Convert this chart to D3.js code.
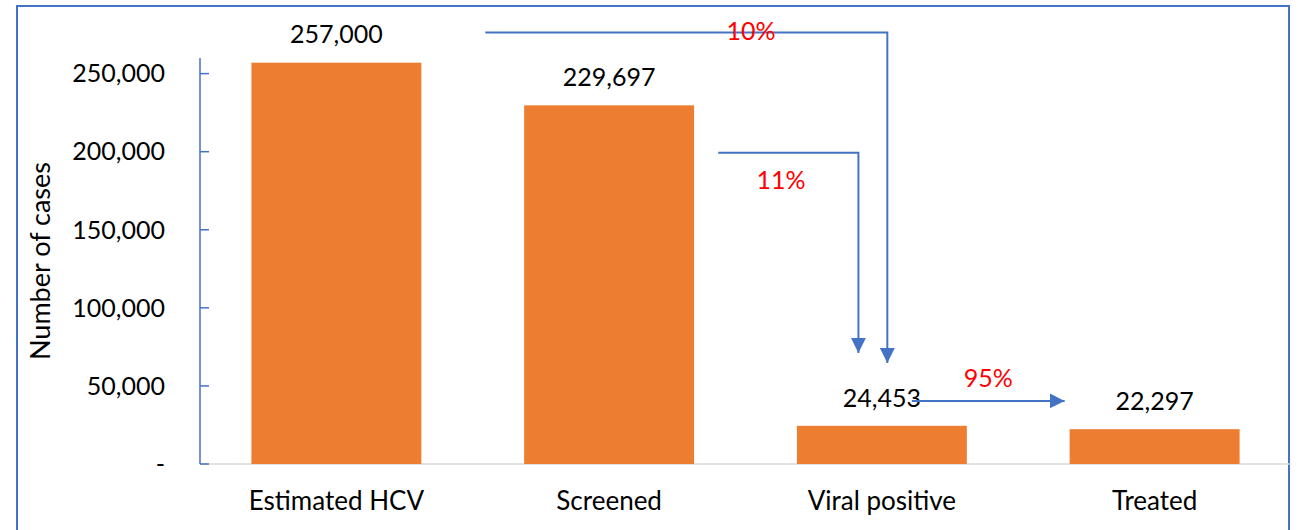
<!DOCTYPE html>
<html>
<head>
<meta charset="utf-8">
<script src="https://cdn.jsdelivr.net/npm/d3@7"></script>
<style>
  body { margin: 0; background: #fff; }
  text { font-family: Lato, "Open Sans", sans-serif; }
</style>
</head>
<body>
<div id="chart"></div>
<script>
// cascade of care
const categories = ["Estimated HCV", "Screened", "Viral positive", "Treated"]
const values = [257000, 229697, 24453, 22297]
const valueLabels = ["257,000", "229,697", "24,453", "22,297"]
const yTicks = [0, 50000, 100000, 150000, 200000, 250000]

// arrows: points as [category position, value]
const arrows = [
  [[0.546, 276300], [2.02, 276300], [2.02, 64700]],
  [[1.40, 199400], [1.914, 199400], [1.914, 71150]],
  [[2.11, 40400], [2.67, 40400]]
]
const pctLabels = ["10%", "11%", "95%"]
const pctPos = [[1.52, 277000], [1.63, 181400], [2.39, 55100]]

const width = 1299, height = 530
const margin = {top: 58, right: 8, bottom: 66, left: 200}

const svg = d3.select("#chart").append("svg").attr("width", width).attr("height", height)

// outer frame
svg.append("rect").attr("x", 17).attr("y", 6).attr("width", 1272).attr("height", 560)
  .attr("fill", "none").attr("stroke", "#4472C4").attr("stroke-width", 2)

const x = d3.scaleBand().domain(categories)
  .range([margin.left, width - margin.right]).paddingInner(0.377).paddingOuter(0.1885)
const y = d3.scaleLinear().domain([0, 260000]).range([height - margin.bottom, margin.top])
// category index -> pixel centre
const xi = d3.scaleLinear().domain([0, 1])
  .range([x(categories[0]) + x.bandwidth() / 2, x(categories[1]) + x.bandwidth() / 2])

// baseline
svg.append("line").attr("x1", margin.left).attr("x2", width - margin.right)
  .attr("y1", y(0)).attr("y2", y(0)).attr("stroke", "#d9d9d9").attr("stroke-width", 1.5)

// y axis
const yAxis = svg.append("g").attr("transform", `translate(${margin.left},0)`)
yAxis.append("line").attr("x1", 0).attr("x2", 0).attr("y1", y.range()[1]).attr("y2", y(0))
  .attr("stroke", "#4472C4").attr("stroke-width", 1.5)
yAxis.selectAll(".tick").data(yTicks).enter().append("line")
  .attr("x1", 0).attr("x2", 9).attr("y1", d => y(d)).attr("y2", d => y(d))
  .attr("stroke", "#4472C4").attr("stroke-width", 1.5)
yAxis.selectAll(".lab").data(yTicks).enter().append("text")
  .attr("x", -35).attr("y", d => y(d)).attr("dy", "0.35em").attr("text-anchor", "end")
  .attr("font-size", 25).attr("fill", "#000")
  .text(d => d === 0 ? "-" : d3.format(",")(d))

svg.append("text").attr("transform", `translate(41,${(y.range()[1] + y(0)) / 2}) rotate(-90)`)
  .attr("text-anchor", "middle").attr("dy", "0.35em").attr("font-size", 27).text("Number of cases")

// bars
svg.selectAll(".bar").data(values).enter().append("rect")
  .attr("x", (d, i) => x(categories[i])).attr("width", x.bandwidth())
  .attr("y", d => y(d)).attr("height", d => y(0) - y(d)).attr("fill", "#ED7D31")

svg.selectAll(".vlab").data(values).enter().append("text")
  .attr("x", (d, i) => x(categories[i]) + x.bandwidth() / 2).attr("y", d => y(d) - 28).attr("dy", "0.35em")
  .attr("text-anchor", "middle").attr("font-size", 25).text((d, i) => valueLabels[i])

svg.selectAll(".clab").data(categories).enter().append("text")
  .attr("x", d => x(d) + x.bandwidth() / 2).attr("y", 501).attr("dy", "0.35em")
  .attr("text-anchor", "middle").attr("font-size", 26).text(d => d)

// arrows
svg.append("defs").append("marker").attr("id", "arr")
  .attr("viewBox", "0 0 10 10").attr("refX", 10).attr("refY", 5)
  .attr("markerWidth", 15).attr("markerHeight", 15).attr("markerUnits", "userSpaceOnUse")
  .attr("orient", "auto")
  .append("path").attr("d", "M0,0L10,5L0,10Z").attr("fill", "#4472C4")

const line = d3.line().x(d => xi(d[0])).y(d => y(d[1]))
svg.selectAll(".arrow").data(arrows).enter().append("path")
  .attr("d", line).attr("fill", "none").attr("stroke", "#4472C4").attr("stroke-width", 2)
  .attr("marker-end", "url(#arr)")

svg.selectAll(".pct").data(pctLabels).enter().append("text")
  .attr("x", (d, i) => xi(pctPos[i][0])).attr("y", (d, i) => y(pctPos[i][1])).attr("dy", "0.35em")
  .attr("text-anchor", "middle").attr("font-size", 25).attr("fill", "#FF0000").text(d => d)
</script>
</body>
</html>
